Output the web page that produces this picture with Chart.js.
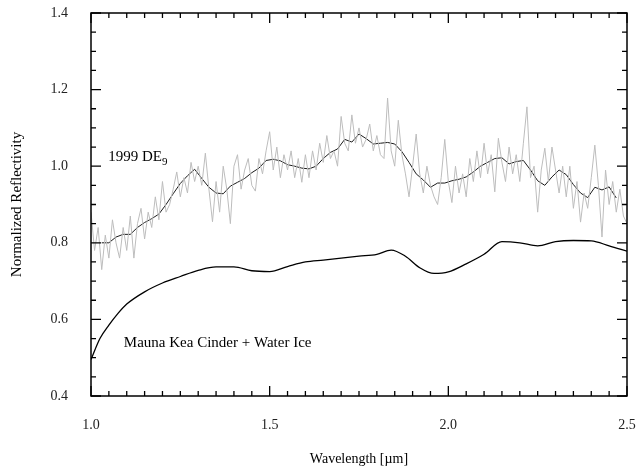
<!DOCTYPE html>
<html>
<head>
<meta charset="utf-8">
<script src="https://cdn.jsdelivr.net/npm/chart.js@4/dist/chart.umd.min.js"></script>
<style>
  html, body { margin: 0; padding: 0; background: #fff; }
  #wrap { width: 641px; height: 468px; }
</style>
</head>
<body>
<div id="wrap"><canvas id="spec"></canvas></div>
<script>
// ---- data ----
// raw 1999 DE9 spectrum, 1.00 .. 2.50 um, step 0.01
const rawStart = 1.0, rawStep = 0.01;
const rawRefl = [
  0.88, 0.78, 0.84, 0.73, 0.82, 0.76, 0.86, 0.80, 0.76, 0.84,
  0.78, 0.87, 0.76, 0.85, 0.89, 0.81, 0.88, 0.84, 0.92, 0.86,
  0.96, 0.88, 0.90, 0.94, 0.985, 0.92, 0.97, 0.93, 1.01, 0.96,
  1.00, 0.95, 1.034, 0.94, 0.855, 0.96, 0.88, 1.00, 0.94, 0.85,
  1.00, 1.03, 0.94, 0.99, 1.02, 0.95, 0.935, 1.02, 0.98, 1.04,
  1.09, 0.99, 1.05, 0.97, 1.03, 0.99, 1.04, 0.97, 1.02, 0.958,
  1.03, 0.97, 1.04, 0.99, 1.06, 1.01, 1.08, 1.02, 1.04, 1.00,
  1.13, 1.06, 1.04, 1.134, 1.06, 1.10, 1.05, 1.07, 1.11, 1.04,
  1.08, 1.03, 1.02, 1.178, 1.04, 1.00, 1.12, 1.03, 0.98, 0.92,
  1.00, 1.084, 0.98, 0.93, 1.00, 0.95, 0.92, 0.90, 0.97, 1.07,
  0.96, 0.905, 1.00, 0.93, 0.98, 0.92, 1.02, 0.96, 1.04, 0.97,
  1.06, 0.98, 1.03, 0.933, 1.073, 1.01, 0.96, 1.05, 0.98, 1.03,
  0.96, 1.06, 1.155, 0.97, 1.00, 0.88, 0.99, 1.047, 0.96, 1.05,
  0.99, 0.93, 1.00, 0.92, 1.00, 0.89, 0.96, 0.854, 0.93, 0.89,
  0.97, 1.055, 0.95, 0.815, 0.99, 0.90, 0.96, 0.88, 0.94, 0.87,
  0.85
];

// smoothed spectrum, 1.03 .. 2.47 um, step 0.02
const smoothStart = 1.03, smoothStep = 0.02;
const smoothRefl = [
  0.800, 0.800, 0.815, 0.822, 0.822, 0.840, 0.853, 0.863, 0.875, 0.900,
  0.928, 0.955, 0.975, 0.992, 0.968, 0.945, 0.930, 0.928, 0.948, 0.958,
  0.968, 0.983, 0.995, 1.015, 1.018, 1.014, 1.004, 1.000, 0.995, 0.993,
  1.000, 1.020, 1.036, 1.045, 1.070, 1.063, 1.084, 1.072, 1.058, 1.060,
  1.062, 1.058, 1.038, 1.010, 0.980, 0.964, 0.945, 0.956, 0.956, 0.962,
  0.966, 0.972, 0.985, 1.000, 1.010, 1.020, 1.022, 1.006, 1.012, 1.015,
  0.990, 0.962, 0.950, 0.972, 0.990, 0.978, 0.952, 0.930, 0.918, 0.945,
  0.938, 0.946, 0.917
];

// Mauna Kea cinder + water ice model
const modelWave = [
  1.00, 1.025, 1.05, 1.075, 1.10, 1.15, 1.20, 1.25, 1.30, 1.35,
  1.40, 1.45, 1.50, 1.55, 1.60, 1.65, 1.70, 1.75, 1.80, 1.84,
  1.88, 1.92, 1.96, 2.00, 2.05, 2.10, 2.15, 2.20, 2.25, 2.30,
  2.35, 2.40, 2.45, 2.50
];
const modelRefl = [
  0.495, 0.550, 0.585, 0.615, 0.640, 0.672, 0.695, 0.712, 0.728, 0.737,
  0.737, 0.727, 0.725, 0.738, 0.750, 0.755, 0.760, 0.765, 0.770, 0.781,
  0.765, 0.735, 0.720, 0.724, 0.745, 0.770, 0.803, 0.800, 0.792, 0.803,
  0.806, 0.805, 0.792, 0.778
];

const xTicks = [1.0, 1.5, 2.0, 2.5];
const yTicks = [0.4, 0.6, 0.8, 1.0, 1.2, 1.4];
const labels = [
  { text: "1999 DE", sub: "9", x: 1.048, y: 1.024 },
  { text: "Mauna Kea Cinder + Water Ice", sub: "", x: 1.092, y: 0.538 }
];

const toPoints = (start, step, arr) =>
  arr.map((v, i) => ({ x: +(start + i * step).toFixed(3), y: v }));

const FONT = "'Liberation Serif', 'DejaVu Serif', serif";

// inward ticks on all four sides, frame, and text labels
const framePlugin = {
  id: "frame",
  afterDraw(chart) {
    const { ctx, chartArea: a, scales } = chart;
    const xs = scales.x, ys = scales.y;
    ctx.save();
    ctx.strokeStyle = "#000";
    ctx.lineWidth = 1.5;
    ctx.strokeRect(a.left, a.top, a.right - a.left, a.bottom - a.top);

    ctx.lineWidth = 1.3;
    ctx.beginPath();
    for (let i = 0; i <= 30; i++) {
      const px = xs.getPixelForValue(1 + i * 0.05);
      const len = i % 10 === 0 ? 10 : 5;
      ctx.moveTo(px, a.bottom); ctx.lineTo(px, a.bottom - len);
      ctx.moveTo(px, a.top); ctx.lineTo(px, a.top + len);
    }
    for (let i = 0; i <= 20; i++) {
      const py = ys.getPixelForValue(0.4 + i * 0.05);
      const len = i % 4 === 0 ? 10 : 5;
      ctx.moveTo(a.left, py); ctx.lineTo(a.left + len, py);
      ctx.moveTo(a.right, py); ctx.lineTo(a.right - len, py);
    }
    ctx.stroke();

    ctx.fillStyle = "#000";
    ctx.textBaseline = "middle";
    labels.forEach(l => {
      const px = xs.getPixelForValue(l.x), py = ys.getPixelForValue(l.y);
      ctx.font = "15px " + FONT;
      ctx.fillText(l.text, px, py);
      if (l.sub) {
        const w = ctx.measureText(l.text).width;
        ctx.font = "11px " + FONT;
        ctx.fillText(l.sub, px + w, py + 5);
      }
    });
    ctx.restore();
  }
};

// hidden outer ticks only keep the labels away from the axes
const hiddenGrid = {
  display: true,
  drawOnChartArea: false,
  drawTicks: true,
  color: "rgba(0,0,0,0)"
};

new Chart(document.getElementById("spec"), {
  type: "line",
  data: {
    datasets: [
      {
        data: toPoints(rawStart, rawStep, rawRefl),
        borderColor: "#bdbdbd",
        borderWidth: 1,
        pointRadius: 0,
        tension: 0
      },
      {
        data: toPoints(smoothStart, smoothStep, smoothRefl),
        borderColor: "#1a1a1a",
        borderWidth: 1,
        pointRadius: 0,
        tension: 0
      },
      {
        data: modelWave.map((w, i) => ({ x: w, y: modelRefl[i] })),
        borderColor: "#000",
        borderWidth: 1.3,
        pointRadius: 0,
        cubicInterpolationMode: "monotone"
      }
    ]
  },
  options: {
    responsive: true,
    maintainAspectRatio: false,
    animation: false,
    layout: { padding: { top: 13, right: 14, left: 0, bottom: 0 } },
    plugins: { legend: { display: false }, tooltip: { enabled: false } },
    scales: {
      x: {
        type: "linear",
        min: 1.0,
        max: 2.5,
        afterBuildTicks: s => { s.ticks = xTicks.map(v => ({ value: v })); },
        afterFit: s => { s.height = 72; },
        grid: { ...hiddenGrid, tickLength: 19 },
        border: { display: false },
        ticks: {
          color: "#222",
          padding: 2,
          font: { family: FONT, size: 14 },
          callback: v => v.toFixed(1)
        },
        title: {
          display: true,
          text: "Wavelength [µm]",
          color: "#000",
          padding: { top: 4, bottom: 0 },
          font: { family: FONT, size: 14 }
        }
      },
      y: {
        min: 0.4,
        max: 1.4,
        afterBuildTicks: s => { s.ticks = yTicks.map(v => ({ value: v })); },
        afterFit: s => { s.width = 91; },
        grid: { ...hiddenGrid, tickLength: 20 },
        border: { display: false },
        ticks: {
          color: "#222",
          padding: 3,
          font: { family: FONT, size: 14 },
          callback: v => v.toFixed(1)
        },
        title: {
          display: true,
          text: "Normalized Reflectivity",
          color: "#000",
          padding: { top: 8, bottom: 0 },
          font: { family: FONT, size: 15 }
        }
      }
    }
  },
  plugins: [framePlugin]
});
</script>
</body>
</html>
